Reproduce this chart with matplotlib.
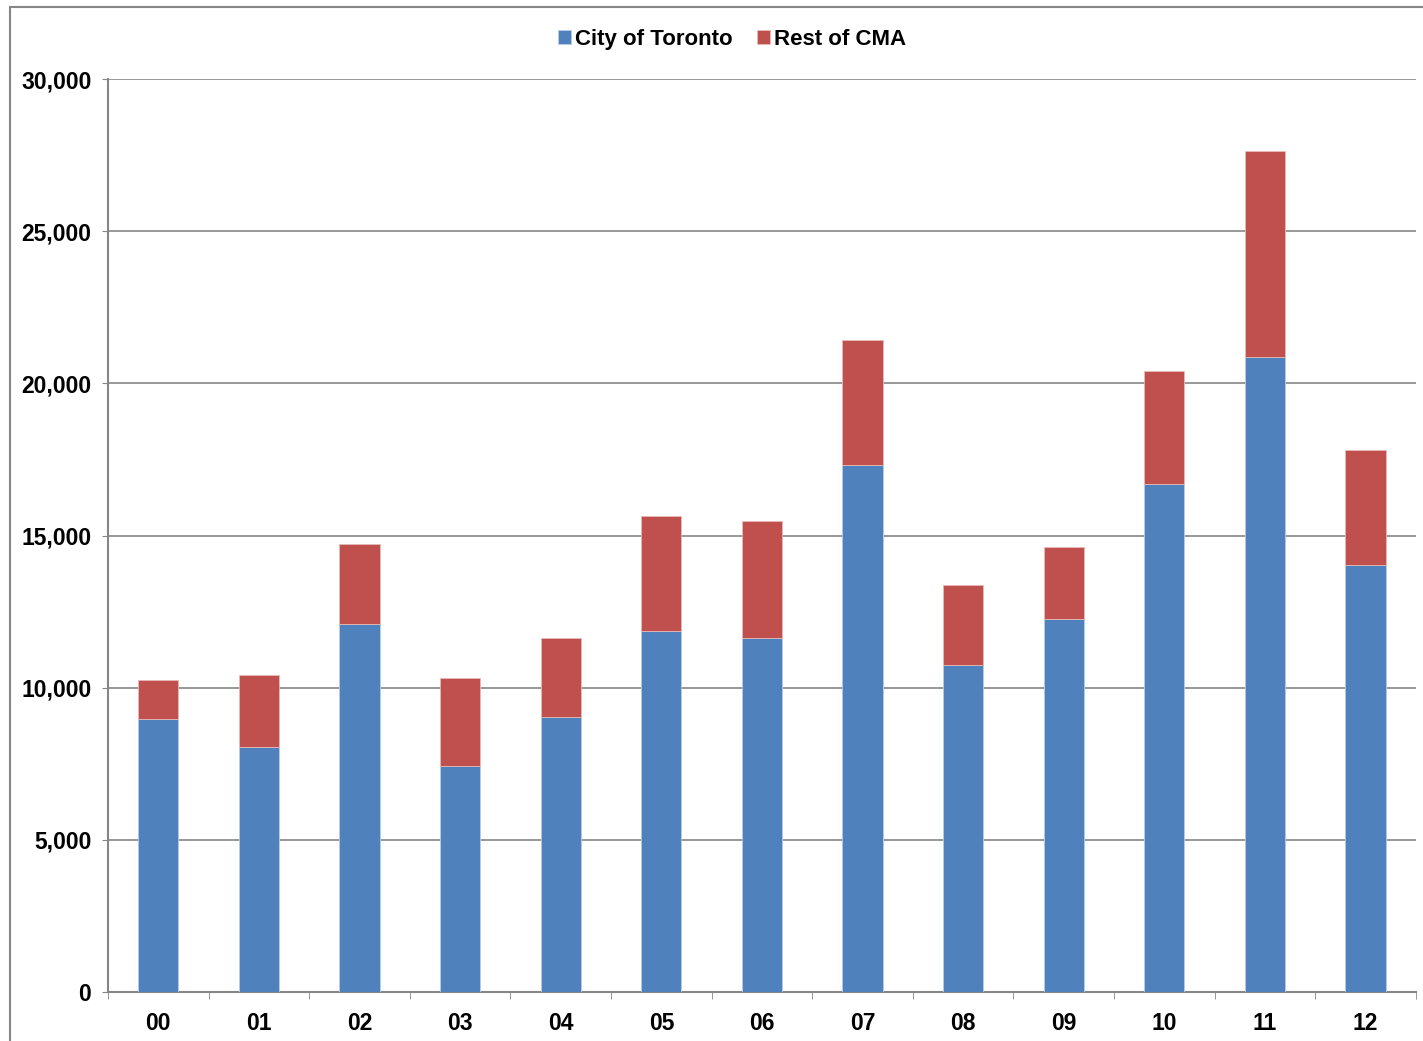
import matplotlib
matplotlib.use("Agg")
import matplotlib.pyplot as plt
import numpy as np
from matplotlib.patches import Rectangle

plt.rcParams['font.family'] = ['Liberation Sans', 'DejaVu Sans']

years = ['00', '01', '02', '03', '04', '05', '06', '07', '08', '09', '10', '11', '12']
city = [8970, 8050, 12090, 7430, 9040, 11860, 11630, 17320, 10750, 12260, 16690, 20870, 14030]
total = [10250, 10420, 14720, 10320, 11630, 15640, 15480, 21430, 13370, 14620, 20410, 27640, 17810]
rest = [t - c for t, c in zip(total, city)]

fig = plt.figure(figsize=(14.23, 10.41), dpi=100)
ax = fig.add_axes([0.0759, 0.047, 0.9191, 0.877])

x = np.arange(len(years))
ax.bar(x, city, width=0.4, color='#4F81BD', edgecolor='#B9CDE5', linewidth=0.6,
       label='City of Toronto', zorder=3)
ax.bar(x, rest, width=0.4, bottom=city, color='#C0504D', edgecolor='#E6B9B8',
       linewidth=0.6, label='Rest of CMA', zorder=3)

ax.set_xlim(-0.5, len(years) - 0.5)
ax.set_ylim(0, 30000)
ax.set_yticks(np.arange(0, 30001, 5000))
ax.set_yticklabels([f'{v:,}' for v in range(0, 30001, 5000)])
ax.set_xticks(x)
ax.set_xticklabels(years)
ax.set_xticks(np.arange(-0.5, len(years), 1), minor=True)
ax.tick_params(axis='x', which='major', length=0, pad=14)
ax.tick_params(axis='x', which='minor', length=5, color='#868686', direction='out')
ax.tick_params(axis='y', length=4, color='#868686', pad=8)
for lab in ax.get_xticklabels() + ax.get_yticklabels():
    lab.set_fontsize(16.5)
    lab.set_fontweight('bold')

ax.yaxis.grid(True, color='#868686', linewidth=1.2, zorder=0)
for s in ['top', 'right']:
    ax.spines[s].set_visible(False)
for s in ['left', 'bottom']:
    ax.spines[s].set_color('#868686')
    ax.spines[s].set_linewidth(1.5)

leg = ax.legend(loc='upper center', bbox_to_anchor=(0.477, 1.077), ncol=2, frameon=False,
                prop={'size': 16, 'weight': 'bold'}, handlelength=0.6, handleheight=0.6,
                handletextpad=0.15, columnspacing=1.1)

fig.patches.append(Rectangle((0.007, -0.01), 1.1, 1.003, transform=fig.transFigure,
                             fill=False, edgecolor='#868686', linewidth=1.5))

fig.savefig('out.png', dpi=100)
